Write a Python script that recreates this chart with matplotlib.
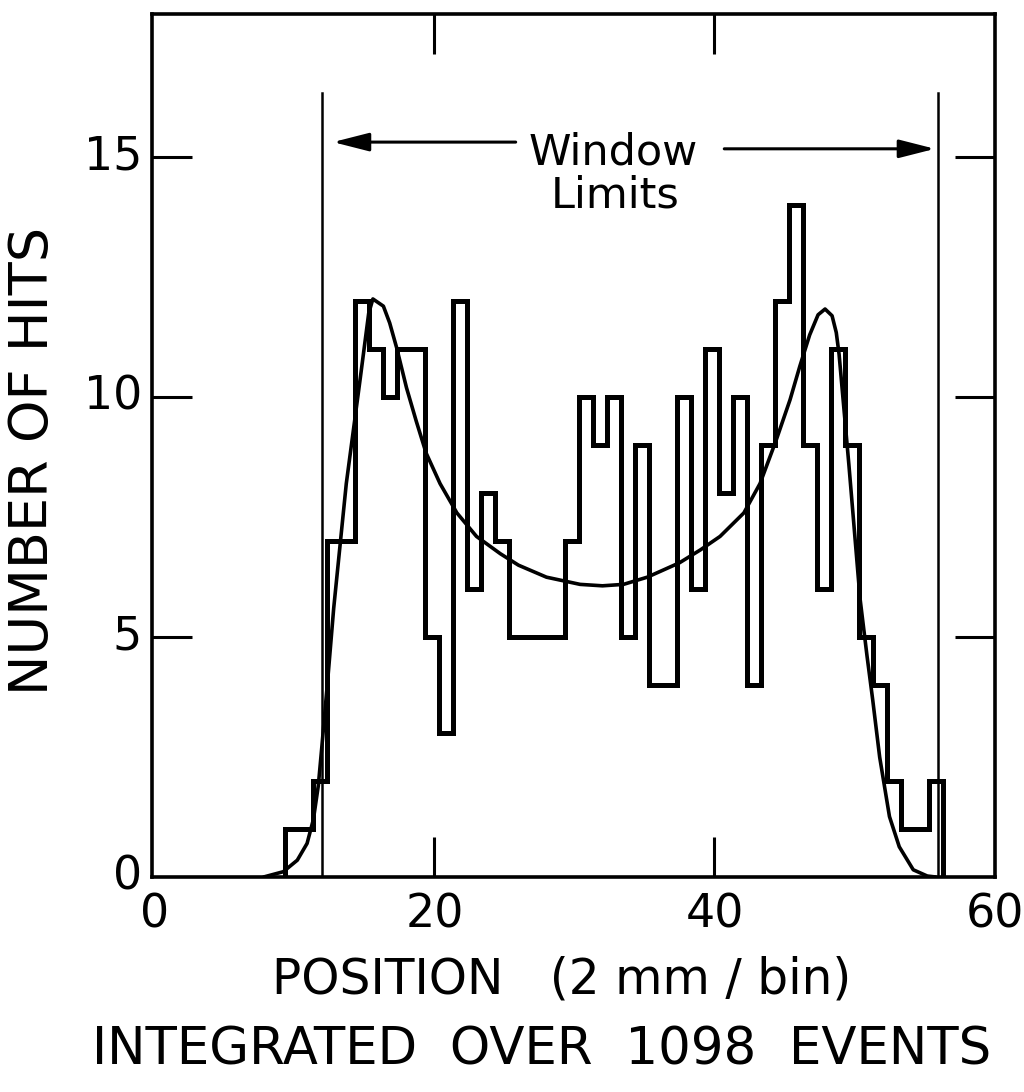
import numpy as np
import matplotlib
matplotlib.use("Agg")
import matplotlib.pyplot as plt

# Hits per 2 mm bin, left to right
bin_left = 9.3
hits = [1, 1, 2, 7, 7, 12, 11, 10, 11, 11, 5, 3, 12, 6, 8, 7,
        5, 5, 5, 5, 7, 10, 9, 10, 5, 9, 4, 4, 10, 6, 11, 8,
        10, 4, 9, 12, 14, 9, 6, 11, 9, 5, 4, 2, 1, 1, 2]

# Fitted acceptance curve
fit_x = [7.8, 9.2, 10.2, 10.9, 11.35, 11.7, 11.95, 12.4, 12.8, 13.7, 14.7,
         15.3, 15.6, 16.35, 16.8, 17.3, 18.0, 18.7, 19.4, 20.4, 21.6, 23.0,
         24.7, 26.0, 28.0, 30.4, 32.0, 33.5, 35.2, 37.5, 39.0, 40.4, 42.1,
         43.25, 44.4, 45.4, 46.1, 46.8, 47.4, 47.9, 48.4, 48.7, 48.9, 49.6,
         50.4, 50.9, 51.3, 51.8, 52.5, 53.2, 54.2, 55.2, 55.8]
fit_y = [0.0, 0.11, 0.35, 0.7, 1.2, 1.9, 2.7, 4.2, 5.6, 8.2, 10.4,
         11.75, 12.05, 11.9, 11.55, 11.03, 10.2, 9.5, 8.84, 8.2, 7.59, 7.1,
         6.74, 6.5, 6.25, 6.1, 6.07, 6.1, 6.25, 6.55, 6.82, 7.1, 7.59,
         8.2, 9.1, 9.95, 10.65, 11.3, 11.72, 11.84, 11.7, 11.35, 10.9, 8.6,
         5.8, 4.6, 3.7, 2.5, 1.26, 0.63, 0.15, 0.02, 0.0]

window_limits = [11.95, 56.0]

x_ticks = [20, 40]
x_ticklabels_at = [0, 20, 40, 60]
y_ticks = [5, 10, 15]
y_ticklabels_at = [0, 5, 10, 15]

plt.rcParams['font.family'] = ['DejaVu Sans']

fig = plt.figure(figsize=(10.24, 10.92), dpi=100)
ax = fig.add_axes([0.148, 0.1969, 0.8237, 0.7907])
ax.set_xlim(-0.21, 60.04)
ax.set_ylim(0, 18.0)

# histogram outline
edges = bin_left + np.arange(len(hits) + 1)
ax.stairs(hits, edges, baseline=0, fill=False, color='black', linewidth=3.6,
          joinstyle='miter')

# fit curve
ax.plot(fit_x, fit_y, color='black', linewidth=2.6, solid_capstyle='round')

# window limit markers
for wl in window_limits:
    ax.plot([wl, wl], [0, 16.35], color='black', linewidth=1.8)

arrow_kw = dict(arrowstyle='-|>,head_length=1.1,head_width=0.28',
                mutation_scale=20, color='black', lw=2.2, shrinkA=0, shrinkB=0)
ax.annotate('', xy=(12.75, 15.32), xytext=(25.8, 15.32), arrowprops=arrow_kw)
ax.annotate('', xy=(55.75, 15.18), xytext=(40.7, 15.18), arrowprops=arrow_kw)
ax.text(32.8, 14.85, 'Window', ha='center', va='baseline', fontsize=31)
ax.text(32.9, 13.95, 'Limits', ha='center', va='baseline', fontsize=31)

# frame and ticks
for sp in ax.spines.values():
    sp.set_linewidth(2.6)

ax.set_xticks(x_ticks)
ax.set_yticks(y_ticks)
ax.tick_params(axis='both', which='major', direction='in', length=29, width=2.2,
               top=True, right=True, labelbottom=False, labelleft=False)

for xv in x_ticklabels_at:
    ax.text(xv, -0.33, str(xv), ha='center', va='top', fontsize=33)
for yv in y_ticklabels_at:
    ax.text(-0.9, yv, str(yv), ha='right', va='center', fontsize=33)

fig.text(0.032, 0.578, 'NUMBER OF HITS', rotation=90, ha='center', va='center',
         fontsize=39)
fig.text(0.548, 0.103, 'POSITION   (2 mm / bin)', ha='center', va='center',
         fontsize=35)
fig.text(0.529, 0.038, 'INTEGRATED  OVER  1098  EVENTS', ha='center', va='center',
         fontsize=37)

fig.savefig('out.png', dpi=100, facecolor='white')
